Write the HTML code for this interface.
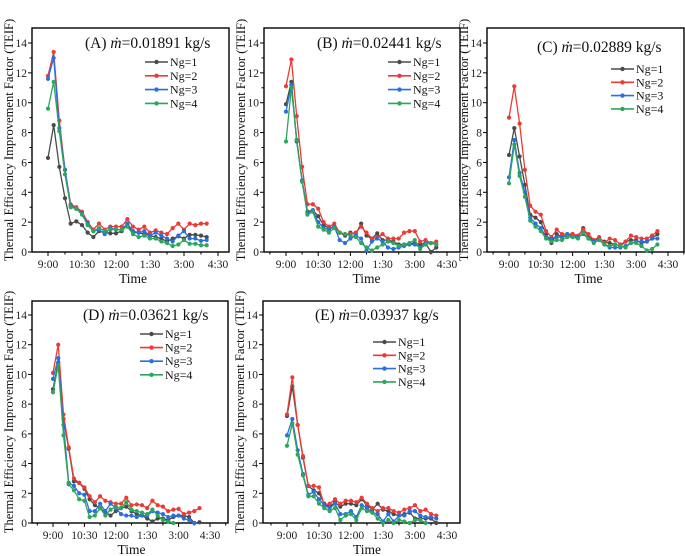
<!DOCTYPE html>
<html><head><meta charset="utf-8"><style>
html,body{margin:0;padding:0;background:#fff;}
svg{display:block;font-family:"Liberation Serif",serif;}
</style></head><body>
<svg id="fig" width="685" height="556" xmlns="http://www.w3.org/2000/svg"></svg>
<script>
const seriesNames = ["Ng=1","Ng=2","Ng=3","Ng=4"];
const colors = ["#4a4a4a","#ec3b35","#2a6fe0","#2ca65c"];
const xTickLabels = ["9:00","10:30","12:00","1:30","3:00","4:30"];
const yTickValues = [0,2,4,6,8,10,12,14];
const intervalMin = 15;
const panelTitles = ["(A)","(B)","(C)","(D)","(E)"];
const flowRates = ["0.01891","0.02441","0.02889","0.03621","0.03937"];

const dataA1 = [6.3,8.5,5.7,3.6,1.9,2.05,1.8,1.3,1.0,1.4,1.3,1.25,1.25,1.4,1.8,1.3,1.3,1.2,1.1,1.0,0.9,0.7,0.9,1.05,0.9,1.15,1.15,1.1,1.0];
const dataA2 = [11.8,13.4,8.8,5.5,3.2,3.0,2.7,2.0,1.5,1.9,1.5,1.7,1.7,1.7,2.2,1.7,1.5,1.7,1.3,1.45,1.3,1.2,1.6,1.9,1.5,1.9,1.8,1.9,1.9];
const dataA3 = [11.6,13.0,8.3,5.5,3.1,2.9,2.6,1.9,1.4,1.5,1.2,1.6,1.5,1.5,1.9,1.4,1.3,1.4,1.1,1.3,1.1,0.9,0.7,1.1,1.4,0.9,0.9,0.75,0.8];
const dataA4 = [9.6,11.4,8.1,5.2,3.0,2.9,2.5,1.8,1.4,1.6,1.4,1.5,1.5,1.5,1.7,1.2,1.0,1.1,0.9,0.9,0.7,0.6,0.4,0.5,0.8,0.55,0.55,0.45,0.45];

const dataB1 = [9.9,11.4,7.4,4.8,2.7,2.8,2.4,1.8,1.6,1.7,1.3,1.1,1.3,1.2,1.9,1.1,0.9,1.25,0.8,0.8,0.7,0.5,0.5,0.55,0.6,0.5,0.6,0.0,0.3];
const dataB2 = [11.1,12.9,9.1,5.7,3.2,3.2,2.9,2.0,1.7,1.9,1.3,1.2,1.2,1.3,1.7,1.3,0.9,1.0,1.2,0.9,0.9,0.9,1.3,1.4,1.4,0.7,0.8,0.6,0.7];
const dataB3 = [9.4,11.2,7.5,4.8,2.6,2.8,2.0,1.6,1.5,1.7,0.8,0.6,0.9,1.1,0.9,0.1,0.7,0.9,0.7,0.3,0.2,0.3,0.4,0.5,0.5,0.3,0.6,0.6,0.5];
const dataB4 = [7.4,11.0,7.5,4.7,2.5,2.7,1.7,1.5,1.3,1.6,1.3,1.2,1.1,1.0,0.6,0.3,0.1,0.3,0.5,0.7,0.6,0.4,0.5,0.6,0.8,0.2,0.5,0.6,0.5];

const dataC1 = [6.5,8.3,6.4,4.5,2.5,2.3,2.0,1.2,0.6,1.2,1.0,1.1,1.2,1.0,1.6,1.0,0.8,0.9,0.7,0.6,0.5,0.4,0.7,0.8,0.8,0.6,0.7,0.9,1.2];
const dataC2 = [9.0,11.1,8.6,5.5,3.1,2.7,2.5,1.4,1.0,1.5,1.2,1.2,1.2,1.1,1.5,1.2,0.8,1.0,0.6,0.9,0.8,0.5,0.7,1.1,1.0,0.9,0.9,1.1,1.4];
const dataC3 = [5.0,7.5,5.3,4.0,2.3,1.9,1.6,1.0,0.9,1.0,1.0,1.2,1.0,1.0,1.2,0.9,0.7,0.8,0.5,0.3,0.3,0.3,0.4,0.6,0.7,0.7,0.7,0.9,0.9];
const dataC4 = [4.6,7.2,5.1,3.7,2.1,1.7,1.4,0.9,0.7,0.8,0.8,1.0,1.0,0.9,1.3,0.9,0.6,0.8,0.5,0.4,0.5,0.4,0.3,0.6,0.6,0.4,0.1,0.2,0.5];

const dataD1 = [9.0,10.8,7.0,5.0,2.8,2.7,2.3,1.6,1.2,1.0,0.7,0.5,0.8,1.0,1.1,0.8,0.6,0.5,0.3,0.1,0.3,0.3,0.2,0.4,0.5,0.5,0.4,0.0,0.05];
const dataD2 = [10.1,12.0,7.3,5.1,3.0,2.7,2.4,1.8,1.4,1.8,1.5,1.4,1.3,1.3,1.7,1.2,1.25,1.2,1.0,1.5,1.2,1.1,0.8,0.9,0.95,0.6,0.7,0.8,1.0];
const dataD3 = [9.7,11.1,6.6,2.7,2.5,2.0,1.9,0.8,0.8,1.3,0.8,1.3,1.0,0.6,0.5,0.5,0.4,0.5,0.5,0.8,0.7,0.6,0.4,0.5,0.5,0.3,0.2,0.0];
const dataD4 = [8.8,10.6,5.9,2.6,2.2,1.6,1.5,0.4,0.5,1.0,0.5,0.9,1.1,1.0,1.4,0.9,0.8,0.7,0.6,0.9,0.5,0.2,0.1,0.0];

const dataE1 = [7.2,9.2,6.6,4.4,2.5,2.2,2.0,1.3,1.1,1.4,1.1,1.3,1.3,1.2,1.6,1.2,0.9,1.3,0.9,0.8,0.6,0.5,0.6,0.7,0.3,0.3,0.3,0.3,0.0];
const dataE2 = [7.3,9.8,6.6,4.5,2.5,2.5,2.4,1.2,1.3,1.6,1.3,1.5,1.5,1.4,1.7,1.3,1.0,0.8,1.0,1.0,0.8,0.7,0.9,1.0,1.2,0.8,0.9,0.6,0.5];
const dataE3 = [5.9,7.0,4.9,3.3,1.9,2.1,1.6,1.2,1.0,1.3,0.6,0.6,0.8,0.4,1.2,1.0,0.7,0.6,0.1,0.6,0.1,0.5,0.5,0.8,0.8,0.5,0.4,0.4,0.3];
const dataE4 = [5.2,6.7,4.6,3.2,1.8,1.8,1.3,1.0,0.8,1.0,0.2,0.5,0.6,0.2,1.0,0.8,0.7,0.3,0.0,0.2,0.0,0.2,0.1,0.0,0.2,0.2,0.0];

const panelData = [[dataA1,dataA2,dataA3,dataA4],[dataB1,dataB2,dataB3,dataB4],[dataC1,dataC2,dataC3,dataC4],[dataD1,dataD2,dataD3,dataD4],[dataE1,dataE2,dataE3,dataE4]];

// layout (not data)
const layouts = [
 {l:32,r:229,t:28,b:252,y14:43,x0:48,x450:218,title:[85,48],leg:[145,62,13.8],ytitle:9},
 {l:264,r:460,t:28,b:252,y14:43,x0:286,x450:447,title:[317,48],leg:[388,62,13.8],ytitle:241},
 {l:487,r:684,t:28,b:252,y14:43,x0:509,x450:668,title:[537,52],leg:[611,69,13.3],ytitle:464},
 {l:32,r:228,t:301,b:523,y14:315,x0:53,x450:210,title:[83,320],leg:[140,334,13.6],ytitle:9},
 {l:263,r:460,t:301,b:523,y14:315,x0:287,x450:447,title:[315,320],leg:[373,342,13.3],ytitle:240}
];
const NS="http://www.w3.org/2000/svg";
const svg=document.getElementById('fig');
function mk(tag,attrs,parent,text){const e=document.createElementNS(NS,tag);for(const k in attrs)e.setAttribute(k,attrs[k]);if(text!==undefined)e.textContent=text;parent.appendChild(e);return e;}

panelData.forEach((series,p)=>{
  const L=layouts[p];
  const g=mk('g',{},svg);
  
  
  const xs=m=>L.x0+(L.x450-L.x0)*m/450;
  const ys=v=>L.b-(L.b-L.y14)*v/14;
  const frame=mk('rect',{x:L.l,y:L.t,width:L.r-L.l,height:L.b-L.t,fill:'none',stroke:'#000','stroke-width':1.4},g);
  
  
  for(let v=0;v<=14;v++){
    const y=ys(v);const major=v%2===0;
    mk('line',{x1:L.l-(major?4:2.5),x2:L.l,y1:y,y2:y,stroke:'#000','stroke-width':1},g);
  }
  yTickValues.forEach(v=>{
    const t=mk('text',{x:L.l-5,y:ys(v)+4,'text-anchor':'end','font-size':11.5,fill:'#222'},g,String(v));
    
    
  });
  for(let m=-45;m<=495;m+=45){
    const x=xs(m); if(x<L.l||x>L.r) continue;
    const major=m%90===0;
    mk('line',{x1:x,x2:x,y1:L.b,y2:L.b+(major?4:2.5),stroke:'#000','stroke-width':1},g);
  }
  xTickLabels.forEach((s,i)=>{
    const t=mk('text',{x:xs(i*90),y:L.b+16,'text-anchor':'middle','font-size':11.5,fill:'#222'},g,s);
    
    
  });
  const xt=mk('text',{x:(L.x0+L.x450)/2,y:L.b+31,'text-anchor':'middle','font-size':13.5,fill:'#111'},g,'Time');
  
  
  const cy=(L.t+L.b)/2;
  const yt=mk('text',{x:L.ytitle,y:cy,'text-anchor':'middle','font-size':12.6,fill:'#111',transform:`rotate(-90 ${L.ytitle} ${cy}) translate(0 4)`},g,'Thermal Efficiency Improvement Factor (TEIF)');
  
  
  const tt=mk('text',{x:L.title[0],y:L.title[1],'font-size':15.5,fill:'#111'},g);
  
  
  mk('tspan',{},tt,panelTitles[p]+' ');
  mk('tspan',{'font-style':'italic'},tt,'ṁ');
  mk('tspan',{},tt,'='+flowRates[p]+' kg/s');
  series.forEach((vals,s)=>{
    const sg=mk('g',{},g);
    
    
    const pts=vals.map((v,i)=>xs(i*intervalMin).toFixed(1)+','+ys(v).toFixed(1)).join(' ');
    const pl=mk('polyline',{points:pts,fill:'none',stroke:colors[s],'stroke-width':1.3},sg);
    
    
    vals.forEach((v,i)=>{
      const c=mk('circle',{cx:xs(i*intervalMin),cy:ys(v),r:2.1,fill:colors[s]},sg);
      
      
    });
  });
  seriesNames.forEach((n,s)=>{
    const y=L.leg[1]+s*L.leg[2];
    const lg=mk('g',{},g);
    
    
    mk('line',{x1:L.leg[0],x2:L.leg[0]+23,y1:y,y2:y,stroke:colors[s],'stroke-width':1.6},lg);
    mk('circle',{cx:L.leg[0]+11.5,cy:y,r:2.2,fill:colors[s]},lg);
    mk('text',{x:L.leg[0]+25,y:y+4,'font-size':12,fill:'#111'},lg,n);
  });
});
</script>
</body></html>
